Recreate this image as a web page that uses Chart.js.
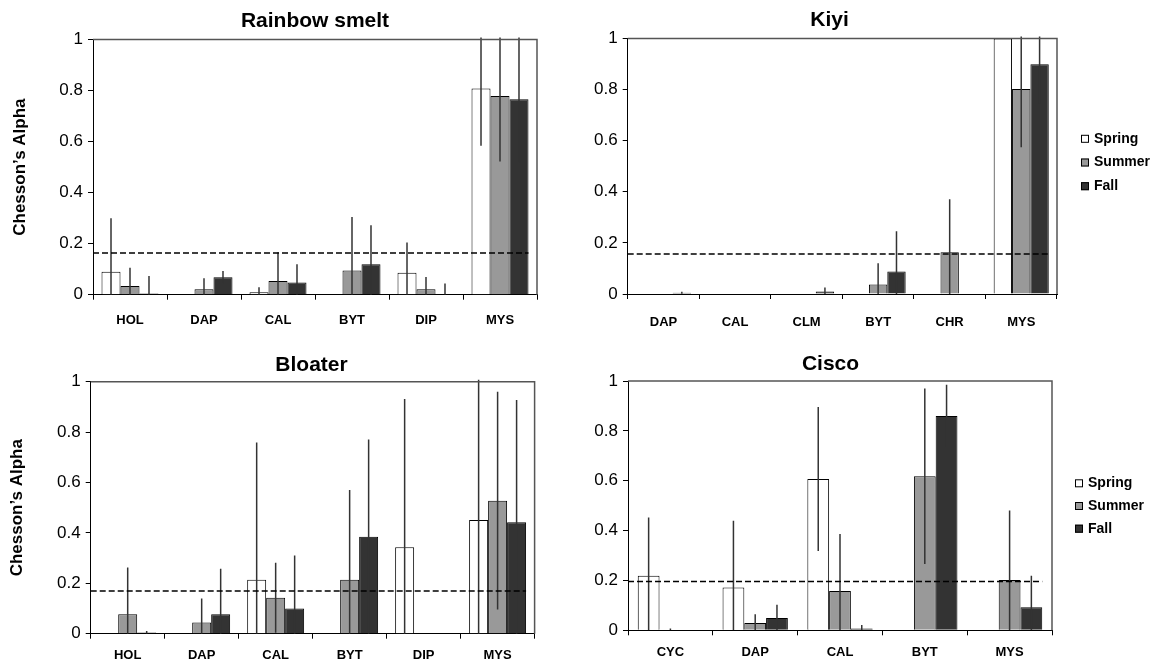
<!DOCTYPE html>
<html>
<head>
<meta charset="utf-8">
<script src="https://cdn.jsdelivr.net/npm/chart.js@4.4.1/dist/chart.umd.min.js"></script>
<style>
  html, body { margin: 0; padding: 0; background: #fff; }
  body { width: 1159px; height: 666px; position: relative; overflow: hidden; }
  canvas { position: absolute; }
</style>
</head>
<body>
<canvas id="smelt" width="580" height="333" style="left:0;top:0"></canvas>
<canvas id="kiyi" width="579" height="333" style="left:580px;top:0"></canvas>
<canvas id="bloater" width="580" height="333" style="left:0;top:333px"></canvas>
<canvas id="cisco" width="579" height="333" style="left:580px;top:333px"></canvas>
<script>
const seasons = ['Spring', 'Summer', 'Fall'];
const yTicks = [0, 0.2, 0.4, 0.6, 0.8, 1];

// Rainbow smelt
const smeltCats = ['HOL', 'DAP', 'CAL', 'BYT', 'DIP', 'MYS'];
const smeltSpring = [0.09, 0, 0.01, 0, 0.086, 0.808];
const smeltSummer = [0.034, 0.021, 0.054, 0.095, 0.021, 0.779];
const smeltFall = [0.005, 0.068, 0.048, 0.119, 0, 0.766];
const smeltSpringErr = [0.21, 0, 0.019, 0, 0.119, 0.224];
const smeltSummerErr = [0.072, 0.043, 0.112, 0.209, 0.048, 0.257];
const smeltFallErr = [0.068, 0.025, 0.071, 0.153, 0.044, 0.249];
const smeltNeutral = 0.163;

// Kiyi
const kiyiCats = ['DAP', 'CAL', 'CLM', 'BYT', 'CHR', 'MYS'];
const kiyiSpring = [0, 0, 0, 0, 0, 1.0];
const kiyiSummer = [0, 0, 0, 0.037, 0.163, 0.802];
const kiyiFall = [0.005, 0, 0.01, 0.088, 0, 0.899];
const kiyiSpringErr = [0, 0, 0, 0, 0, 0];
const kiyiSummerErr = [0, 0, 0, 0.083, 0.208, 0.228];
const kiyiFallErr = [0.004, 0, 0.015, 0.158, 0, 0.153];
const kiyiNeutral = 0.157;

// Bloater
const bloaterCats = ['HOL', 'DAP', 'CAL', 'BYT', 'DIP', 'MYS'];
const bloaterSpring = [0, 0, 0.214, 0, 0.343, 0.451];
const bloaterSummer = [0.077, 0.044, 0.143, 0.214, 0, 0.528];
const bloaterFall = [0.005, 0.077, 0.1, 0.385, 0, 0.442];
const bloaterSpringErr = [0, 0, 0.545, 0, 0.588, 0.56];
const bloaterSummerErr = [0.186, 0.096, 0.139, 0.356, 0, 0.432];
const bloaterFallErr = [0.006, 0.181, 0.21, 0.386, 0, 0.485];
const bloaterNeutral = 0.169;

// Cisco
const ciscoCats = ['CYC', 'DAP', 'CAL', 'BYT', 'MYS'];
const ciscoSpring = [0.219, 0.172, 0.607, 0, 0];
const ciscoSummer = [0, 0.029, 0.158, 0.618, 0.202];
const ciscoFall = [0, 0.049, 0.007, 0.86, 0.092];
const ciscoSpringErr = [0.233, 0.267, 0.289, 0, 0];
const ciscoSummerErr = [0.007, 0.035, 0.228, 0.352, 0.279];
const ciscoFallErr = [0, 0.053, 0.014, 0.125, 0.127];
const ciscoNeutral = 0.196;

const FONT = 'Arial, "Liberation Sans", Helvetica, sans-serif';
const colors = ['#ffffff', '#999999', '#333333'];

// error bars, neutral line, plot frame, title and legend
const extras = {
    id: 'extras',
    afterDatasetsDraw(chart, args, opts) {
        const ctx = chart.ctx;
        const a = chart.chartArea;
        const y = chart.scales.y;
        ctx.save();
        ctx.beginPath();
        ctx.rect(a.left, a.top - 2, a.right - a.left, a.bottom - a.top + 2);
        ctx.clip();
        ctx.strokeStyle = '#333';
        ctx.lineWidth = 1.5;
        chart.data.datasets.forEach((ds, i) => {
            chart.getDatasetMeta(i).data.forEach((bar, j) => {
                const e = ds.errors[j];
                if (!e) return;
                const v = ds.data[j];
                ctx.beginPath();
                ctx.moveTo(bar.x, y.getPixelForValue(v + e));
                ctx.lineTo(bar.x, y.getPixelForValue(Math.max(v - e, 0)));
                ctx.stroke();
            });
        });
        ctx.restore();

        // dashed line at neutral selection
        const last = chart.getDatasetMeta(chart.data.datasets.length - 1).data;
        const lb = last[last.length - 1];
        const yy = y.getPixelForValue(opts.neutral);
        ctx.save();
        ctx.strokeStyle = '#000';
        ctx.lineWidth = 1.5;
        ctx.setLineDash([6, 3]);
        ctx.beginPath();
        ctx.moveTo(a.left, yy);
        ctx.lineTo(lb.x + lb.width / 2, yy);
        ctx.stroke();
        ctx.restore();

        // top and right side of the box
        ctx.save();
        ctx.strokeStyle = '#555';
        ctx.lineWidth = 1.5;
        ctx.beginPath();
        ctx.moveTo(a.left, a.top);
        ctx.lineTo(a.right, a.top);
        ctx.lineTo(a.right, a.bottom);
        ctx.stroke();
        ctx.restore();
    },
    afterDraw(chart, args, opts) {
        const ctx = chart.ctx;
        ctx.save();
        ctx.fillStyle = '#000';
        ctx.textBaseline = 'middle';
        ctx.textAlign = 'center';
        ctx.font = 'bold 21px ' + FONT;
        ctx.fillText(opts.title.text, opts.title.x, opts.title.y);
        ctx.restore();

        if (!opts.legend) return;
        const lg = opts.legend;
        const x = chart.chartArea.right + lg.dx;
        ctx.save();
        ctx.font = 'bold 14px ' + FONT;
        ctx.textBaseline = 'middle';
        ctx.textAlign = 'left';
        chart.data.datasets.forEach((ds, i) => {
            const cy = lg.cy + (i - 1) * lg.step;
            ctx.fillStyle = ds.backgroundColor;
            ctx.fillRect(x, cy - 4, 8, 8);
            ctx.strokeStyle = '#000';
            ctx.lineWidth = 1;
            ctx.strokeRect(x + 0.5, cy - 3.5, 7, 7);
            ctx.fillStyle = '#000';
            ctx.fillText(ds.label, x + 13, cy);
        });
        ctx.restore();
    }
};

function makeChart(id, g, title, cats, series, errs, neutral) {
    const datasets = seasons.map((s, i) => ({
        label: s,
        data: series[i],
        errors: errs[i],
        backgroundColor: colors[i],
        borderColor: '#000',
        borderWidth: 1,
        barPercentage: 1,
        categoryPercentage: 0.77
    }));
    new Chart(document.getElementById(id), {
        type: 'bar',
        data: { labels: cats, datasets: datasets },
        plugins: [extras],
        options: {
            responsive: false,
            animation: false,
            events: [],
            layout: { padding: { left: 0, right: g.padR, top: g.top, bottom: 0 } },
            plugins: {
                legend: { display: false },
                tooltip: { enabled: false },
                title: { display: false },
                extras: {
                    neutral: neutral,
                    legend: g.legend,
                    title: { text: title, x: g.titleX, y: g.titleY }
                }
            },
            scales: {
                x: {
                    afterFit: (s) => { s.height = g.xh; },
                    grid: { drawOnChartArea: false, drawTicks: true, tickLength: 5, color: '#000', offset: true },
                    border: { display: true, color: '#000', width: 1 },
                    ticks: {
                        color: '#000', padding: g.xPad, maxRotation: 0, autoSkip: false,
                        font: { family: FONT, size: 13, weight: 'bold' }
                    }
                },
                y: {
                    min: 0,
                    max: 1,
                    afterFit: (s) => { s.width = g.yw; },
                    afterBuildTicks: (s) => { s.ticks = yTicks.map(v => ({ value: v })); },
                    grid: { drawOnChartArea: false, drawTicks: true, tickLength: 5, color: '#000' },
                    border: { display: true, color: '#000', width: 1 },
                    ticks: {
                        color: '#000', padding: 5,
                        font: { family: FONT, size: 17 },
                        callback: (v) => String(v)
                    },
                    title: {
                        display: g.yTitle,
                        text: 'Chesson\u2019s Alpha',
                        color: '#000',
                        font: { family: FONT, size: 17, weight: 'bold' },
                        padding: { top: g.yTitlePad, bottom: 0 }
                    }
                }
            }
        }
    });
}

makeChart('smelt',
    { padR: 43, yw: 93, top: 39.5, xh: 38.3, xPad: 12.5, titleX: 315, titleY: 21, yTitle: true, yTitlePad: 9.8, legend: null },
    'Rainbow smelt', smeltCats,
    [smeltSpring, smeltSummer, smeltFall],
    [smeltSpringErr, smeltSummerErr, smeltFallErr], smeltNeutral);

makeChart('kiyi',
    { padR: 102, yw: 47.7, top: 38.5, xh: 39, xPad: 15.2, titleX: 249.5, titleY: 20.5, yTitle: false, yTitlePad: 0, legend: { dx: 24, cy: 162.5, step: 23.7 } },
    'Kiyi', kiyiCats,
    [kiyiSpring, kiyiSummer, kiyiFall],
    [kiyiSpringErr, kiyiSummerErr, kiyiFallErr], kiyiNeutral);

makeChart('bloater',
    { padR: 45.4, yw: 90.7, top: 48.7, xh: 32.3, xPad: 8.5, titleX: 311.5, titleY: 32.5, yTitle: true, yTitlePad: 7.3, legend: null },
    'Bloater', bloaterCats,
    [bloaterSpring, bloaterSummer, bloaterFall],
    [bloaterSpringErr, bloaterSummerErr, bloaterFallErr], bloaterNeutral);

makeChart('cisco',
    { padR: 107, yw: 48, top: 48, xh: 35.7, xPad: 9.6, titleX: 250.5, titleY: 31, yTitle: false, yTitlePad: 0, legend: { dx: 23, cy: 173, step: 22.7 } },
    'Cisco', ciscoCats,
    [ciscoSpring, ciscoSummer, ciscoFall],
    [ciscoSpringErr, ciscoSummerErr, ciscoFallErr], ciscoNeutral);
</script>
</body>
</html>
